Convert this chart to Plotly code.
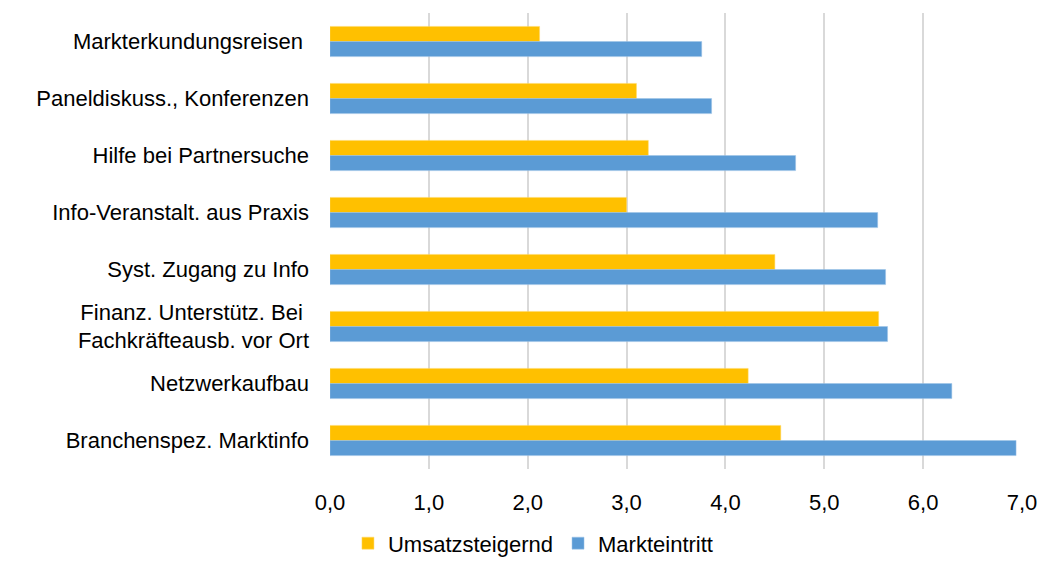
import plotly.graph_objects as go

categories = [
    "Markterkundungsreisen ",
    "Paneldiskuss., Konferenzen",
    "Hilfe bei Partnersuche",
    "Info-Veranstalt. aus Praxis",
    "Syst. Zugang zu Info",
    "Finanz. Unterstütz. Bei <br>Fachkräfteausb. vor Ort",
    "Netzwerkaufbau",
    "Branchenspez. Marktinfo",
]
umsatzsteigernd = [2.12, 3.10, 3.22, 3.00, 4.50, 5.55, 4.23, 4.56]
markteintritt = [3.76, 3.86, 4.71, 5.54, 5.62, 5.64, 6.29, 6.94]
x_ticks = [0, 1, 2, 3, 4, 5, 6, 7]

fig = go.Figure()
fig.add_trace(go.Bar(
    y=categories, x=umsatzsteigernd, orientation="h", name="Umsatzsteigernd",
    marker=dict(color="#FFC000", line=dict(color="#FFD966", width=0.5)),
))
fig.add_trace(go.Bar(
    y=categories, x=markteintritt, orientation="h", name="Markteintritt",
    marker=dict(color="#5B9BD5", line=dict(color="#9DC3E6", width=0.5)),
))

font = dict(family="Liberation Sans, Arial, sans-serif", size=22, color="#000000")

fig.update_layout(
    width=1045, height=562,
    margin=dict(l=330, r=23, t=13, b=93, autoexpand=False),
    paper_bgcolor="white", plot_bgcolor="white",
    barmode="group", bargap=0.47, bargroupgap=0,
    separators=",.",
    font=font,
    showlegend=True,
    legend=dict(
        orientation="h", xref="container", yref="paper",
        x=0.51, xanchor="center", y=-0.163, yanchor="middle",
        font=font, itemwidth=30, traceorder="normal",
        tracegroupgap=0,
    ),
    xaxis=dict(
        range=[0, 7], tickvals=x_ticks, tickformat=".1f",
        showgrid=True, gridcolor="#d9d9d9", gridwidth=2,
        zeroline=False, showline=False, ticks="",
        ticklabelstandoff=18, tickfont=font, automargin=False,
    ),
    yaxis=dict(
        autorange="reversed", showgrid=False, zeroline=False,
        showline=False, ticks="", ticklabelstandoff=20, tickfont=font,
        automargin=False,
    ),
)

fig.write_html("out.html")
